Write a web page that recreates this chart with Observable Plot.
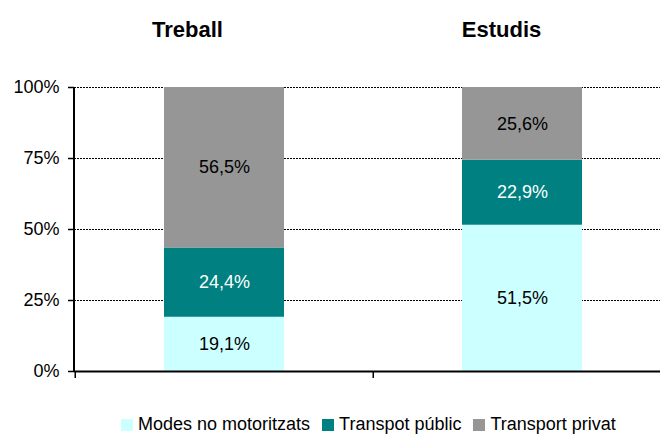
<!DOCTYPE html>
<html><head><meta charset="utf-8">
<script src="https://cdn.jsdelivr.net/npm/d3@7"></script>
<script src="https://cdn.jsdelivr.net/npm/@observablehq/plot@0.6"></script>
<style>
body{margin:0;background:#fff;width:660px;height:436px;overflow:hidden;position:relative;font-family:"Liberation Sans",Arial,sans-serif}
#chart{position:absolute;left:0;top:0}
#legend{position:absolute;left:121px;top:408px}
.lg-swatch{margin-right:12px !important}
.lg-swatch > svg{margin-right:5px !important}
</style></head><body><div id="chart"></div><div id="legend"></div>
<script>
const categories = ["Treball", "Estudis"];
const series = ["Modes no motoritzats", "Transpot públic", "Transport privat"];
const modesNoMotoritzats = [19.1, 51.5];
const transportPublic = [24.4, 22.9];
const transportPrivat = [56.5, 25.6];
const yTicks = [0, 25, 50, 75, 100];
const colors = ["#CCFFFF", "#008080", "#969696"];

const data = [];
[modesNoMotoritzats, transportPublic, transportPrivat].forEach((vals, si) =>
  vals.forEach((v, ci) => data.push({cat: categories[ci], serie: series[si], value: v})));

const fmt = v => v.toFixed(1).replace(".", ",") + "%";
const font = "'Liberation Sans', Arial, sans-serif";
const stackOpts = {x: "cat", y: "value", z: "serie", order: series, text: d => fmt(d.value)};
const titleDx = [-37, -21];

const chart = Plot.plot({
  width: 660,
  height: 400,
  marginTop: 87,
  marginBottom: 29,
  marginLeft: 74,
  marginRight: 0,
  style: {fontFamily: font, fontSize: "18px", background: "white", color: "black"},
  x: {domain: categories, range: [74, 671], paddingInner: 0.598, paddingOuter: 0.299, axis: null},
  y: {domain: [0, 100], axis: null},
  color: {domain: series, range: colors},
  marks: [
    Plot.gridY(yTicks.slice(1), {stroke: "black", strokeOpacity: 1, strokeWidth: 1, strokeDasharray: "2,1"}),
    Plot.barY(data, {x: "cat", y: "value", fill: "serie", order: series}),
    Plot.text(data, Plot.filter(d => d.serie !== series[1], Plot.stackY({...stackOpts, fill: "black", fontSize: 18}))),
    Plot.text(data, Plot.filter(d => d.serie === series[1], Plot.stackY({...stackOpts, fill: "white", fontSize: 18}))),
    Plot.axisY({ticks: yTicks, tickFormat: d => d + "%", tickSize: 6, tickPadding: 9, fontSize: 18, stroke: "black", strokeWidth: 1.5, label: null}),
    Plot.axisX({tickSize: 7, tickFormat: () => "", dx: -149.25, stroke: "black", strokeWidth: 1.5, label: null}),
    Plot.ruleY([0], {stroke: "black", strokeWidth: 2}),
    (index, scales, values, dims) => {
      const line = d3.create("svg:line")
        .attr("x1", dims.marginLeft).attr("x2", dims.marginLeft)
        .attr("y1", scales.y(100)).attr("y2", scales.y(0))
        .attr("stroke", "black").attr("stroke-width", 2);
      return line.node();
    },
    ...categories.map((c, i) => Plot.text([c], {x: d => d, frameAnchor: "top", dy: -66, dx: titleDx[i], fontSize: 22, fontWeight: "bold", fill: "black"}))
  ]
});
document.getElementById("chart").append(chart);
const legend = chart.legend("color", {className: "lg", swatchSize: 12, style: {fontSize: "18px", fontFamily: font, color: "black"}});
document.getElementById("legend").append(legend);
</script></body></html>
